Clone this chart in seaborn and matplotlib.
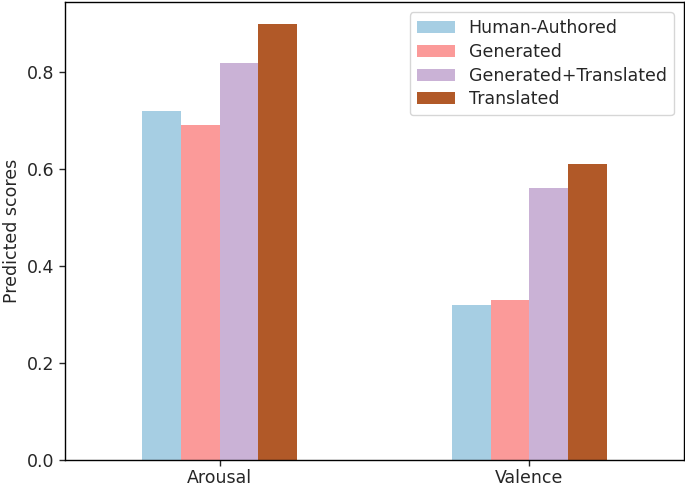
import matplotlib
matplotlib.use("Agg")
import matplotlib.pyplot as plt
import seaborn as sns
import pandas as pd

# scores
dimensions = ["Arousal", "Valence"]
sources = ["Human-Authored", "Generated", "Generated+Translated", "Translated"]
human_authored = [0.72, 0.32]
generated = [0.69, 0.33]
generated_translated = [0.82, 0.56]
translated = [0.90, 0.61]

colors = ["#a6cee3", "#fb9a99", "#cab2d6", "#b15928"]

rows = []
for name, vals in zip(sources, [human_authored, generated, generated_translated, translated]):
    for dim, v in zip(dimensions, vals):
        rows.append({"Dimension": dim, "Source": name, "Score": v})
df = pd.DataFrame(rows)

sns.set_style("ticks")
plt.rcParams["font.family"] = ["DejaVu Sans"]
plt.rcParams["font.size"] = 12.5

fig, ax = plt.subplots(figsize=(6.85, 4.86), dpi=100)
fig.subplots_adjust(left=0.095, right=0.9985, bottom=0.054, top=0.996)

sns.barplot(data=df, x="Dimension", y="Score", hue="Source", hue_order=sources,
            palette=colors, width=0.5, saturation=1, ax=ax, errorbar=None,
            linewidth=0)

ax.set_xlim(-0.5, 1.5)
ax.set_ylim(0, 0.945)
ax.set_yticks([0.0, 0.2, 0.4, 0.6, 0.8])
ax.set_xlabel("")
ax.set_ylabel("Predicted scores", fontsize=12.5)
ax.tick_params(axis="both", labelsize=12.5, length=4.2, width=1)
ax.tick_params(axis="x", pad=2.5)
for s in ax.spines.values():
    s.set_linewidth(1)
    s.set_color("black")

leg = ax.legend(loc="upper right", fontsize=12.5, frameon=True,
                handlelength=2.2, borderaxespad=0.6, labelspacing=0.33)
leg.get_frame().set_edgecolor("#cccccc")

plt.savefig("out.png", dpi=100)
